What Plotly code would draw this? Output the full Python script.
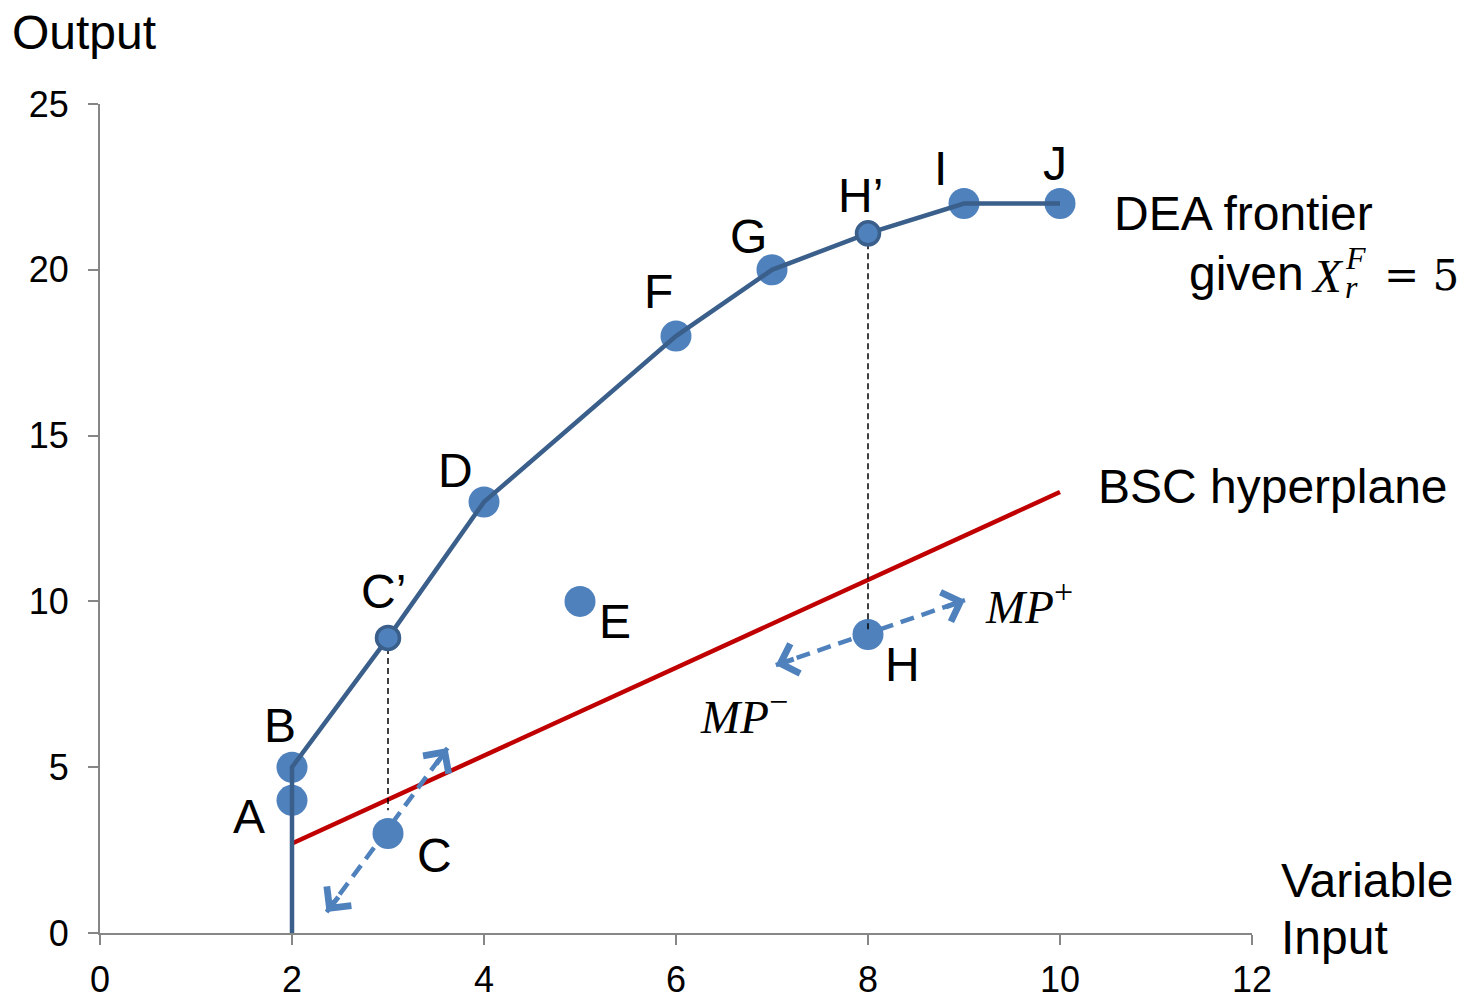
import plotly.graph_objects as go

# Observed producers (variable input, output)
point_names = ["A", "B", "C", "D", "E", "F", "G", "H", "I", "J"]
point_x = [2, 2, 3, 4, 5, 6, 7, 8, 9, 10]
point_y = [4, 5, 3, 13, 10, 18, 20, 9, 22, 22]

# Projections of C and H onto the frontier
proj_names = ["C’", "H’"]
proj_x = [3, 8]
proj_y = [8.9, 21.1]

# DEA frontier vertices (starts on the x axis at input 2)
frontier_x = [2, 2, 3, 4, 6, 7, 8, 9, 10]
frontier_y = [0, 5, 8.9, 13, 18, 20, 21.1, 22, 22]

# BSC hyperplane end points
bsc_x = [2, 10]
bsc_y = [2.7, 13.3]

# Dashed double arrows through C and H (tail end, point, head end)
arrow_c_x = [2.36, 3, 3.62]
arrow_c_y = [0.63, 3, 5.58]
arrow_h_x = [7.04, 8, 9.01]
arrow_h_y = [8.08, 9, 10.04]

# Drop lines from projections down to the observed points
drop_c_x = [3, 3]
drop_c_y = [8.9, 3.7]
drop_h_x = [8, 8]
drop_h_y = [21.1, 9]

x_ticks = [0, 2, 4, 6, 8, 10, 12]
y_ticks = [0, 5, 10, 15, 20, 25]

BLUE = "#4f81bd"
DARK_BLUE = "#3a5f8b"
RED = "#c00000"
AXIS = "#868686"
SANS = "Liberation Sans, Arial, sans-serif"
SERIF = "Liberation Serif, Times New Roman, serif"
SERIF_WIDE = "DejaVu Serif, serif"

W, H = 1465, 993
L, R, T, B = 100, 213, 104, 60
PW, PH = W - L - R, H - T - B


def px(x):
    return (x - L) / PW


def py(y):
    return (H - B - y) / PH


fig = go.Figure()

fig.add_trace(go.Scatter(x=bsc_x, y=bsc_y, mode="lines",
                         line=dict(color=RED, width=4.5), hoverinfo="skip"))

fig.add_trace(go.Scatter(x=point_x, y=point_y, mode="markers",
                         marker=dict(size=31, color=BLUE), hoverinfo="skip"))

for dx, dy in [(drop_c_x, drop_c_y), (drop_h_x, drop_h_y)]:
    fig.add_trace(go.Scatter(x=dx, y=dy, mode="lines",
                             line=dict(color="black", width=1.5, dash="6px,4px"),
                             hoverinfo="skip"))

for ax_, ay_ in [(arrow_c_x, arrow_c_y), (arrow_h_x, arrow_h_y)]:
    fig.add_trace(go.Scatter(x=[ax_[0], ax_[2]], y=[ay_[0], ay_[2]], mode="lines",
                             line=dict(color=BLUE, width=4.5, dash="14px,8px"),
                             hoverinfo="skip"))

fig.add_trace(go.Scatter(x=frontier_x, y=frontier_y, mode="lines",
                         line=dict(color=DARK_BLUE, width=4.5), hoverinfo="skip"))

fig.add_trace(go.Scatter(x=proj_x, y=proj_y, mode="markers",
                         marker=dict(size=23, color=BLUE,
                                     line=dict(color=DARK_BLUE, width=3.5)),
                         hoverinfo="skip"))

annotations = []

# Arrow heads at both ends of each dashed double arrow
for ax_, ay_ in [(arrow_c_x, arrow_c_y), (arrow_h_x, arrow_h_y)]:
    for tip, back in [(0, 1), (2, 1)]:
        tx, ty = ax_[tip], ay_[tip]
        bx, by = ax_[back], ay_[back]
        f = 0.2
        annotations.append(dict(
            x=tx, y=ty, xref="x", yref="y",
            ax=tx + (bx - tx) * f, ay=ty + (by - ty) * f, axref="x", ayref="y",
            text=" ", font=dict(size=1), borderpad=0,
            xanchor="center", yanchor="middle",
            showarrow=True, arrowhead=4, arrowsize=1.2, arrowwidth=5,
            arrowcolor=BLUE, standoff=0, startstandoff=0))

TEXT_SIZE = 48

# Point labels
label_pos = {
    "A": (1.55, 3.5), "B": (1.88, 6.25), "C": (3.48, 2.35), "C’": (2.95, 10.3),
    "D": (3.7, 13.95), "E": (5.36, 9.4), "F": (5.82, 19.35), "G": (6.75, 21.0),
    "H’": (7.92, 22.25), "I": (8.75, 23.05), "J": (9.95, 23.2), "H": (8.36, 8.1),
}
for name, (lx, ly) in label_pos.items():
    annotations.append(dict(x=lx, y=ly, xref="x", yref="y", text=name,
                            showarrow=False,
                            font=dict(family=SANS, size=TEXT_SIZE, color="black")))

text_font = dict(family=SANS, size=TEXT_SIZE, color="black")
math_font = dict(family=SERIF, size=47, color="black")
eq_font = dict(family=SERIF_WIDE, size=42, color="black")
small_math = dict(family=SERIF, size=32, color="black")
sup = "<sup><span style='font-size:34px'>{}</span></sup>"

annotations += [
    dict(x=px(10), y=py(33), xref="paper", yref="paper", text="Output",
         xanchor="left", yanchor="middle", showarrow=False, font=text_font),
    dict(x=px(1112), y=py(213), xref="paper", yref="paper", text="DEA frontier",
         xanchor="left", yanchor="middle", showarrow=False, font=text_font),
    dict(x=px(1187), y=py(273), xref="paper", yref="paper", text="given",
         xanchor="left", yanchor="middle", showarrow=False, font=text_font),
    dict(x=px(1309), y=py(276), xref="paper", yref="paper", text="<i>X</i>",
         xanchor="left", yanchor="middle", showarrow=False, font=math_font),
    dict(x=px(1343), y=py(258), xref="paper", yref="paper", text="<i>F</i>",
         xanchor="left", yanchor="middle", showarrow=False, font=small_math),
    dict(x=px(1343), y=py(287), xref="paper", yref="paper", text="<i>r</i>",
         xanchor="left", yanchor="middle", showarrow=False, font=small_math),
    dict(x=px(1382), y=py(275), xref="paper", yref="paper", text="= 5",
         xanchor="left", yanchor="middle", showarrow=False, font=eq_font),
    dict(x=px(1096), y=py(486), xref="paper", yref="paper", text="BSC hyperplane",
         xanchor="left", yanchor="middle", showarrow=False, font=text_font),
    dict(x=px(983), y=py(603), xref="paper", yref="paper",
         text="<i>MP</i>" + sup.format("+"),
         xanchor="left", yanchor="middle", showarrow=False, font=math_font),
    dict(x=px(698), y=py(713), xref="paper", yref="paper",
         text="<i>MP</i>" + sup.format("−"),
         xanchor="left", yanchor="middle", showarrow=False, font=math_font),
    dict(x=px(1279), y=py(880), xref="paper", yref="paper", text="Variable",
         xanchor="left", yanchor="middle", showarrow=False, font=text_font),
    dict(x=px(1279), y=py(937), xref="paper", yref="paper", text="Input",
         xanchor="left", yanchor="middle", showarrow=False, font=text_font),
]

axis_common = dict(showgrid=False, zeroline=False, showline=True, linecolor=AXIS,
                   linewidth=2, ticks="outside", ticklen=10, tickwidth=2,
                   tickcolor=AXIS, automargin=False,
                   tickfont=dict(family=SANS, size=36, color="black"))

fig.update_layout(
    width=W, height=H,
    margin=dict(l=L, r=R, t=T, b=B),
    paper_bgcolor="white", plot_bgcolor="white",
    showlegend=False,
    xaxis=dict(range=[0, 12], tickvals=x_ticks, ticklabelstandoff=4, **axis_common),
    yaxis=dict(range=[0, 25], tickvals=y_ticks, ticklabelstandoff=12, **axis_common),
    annotations=annotations,
)

fig.write_html("out.html")
